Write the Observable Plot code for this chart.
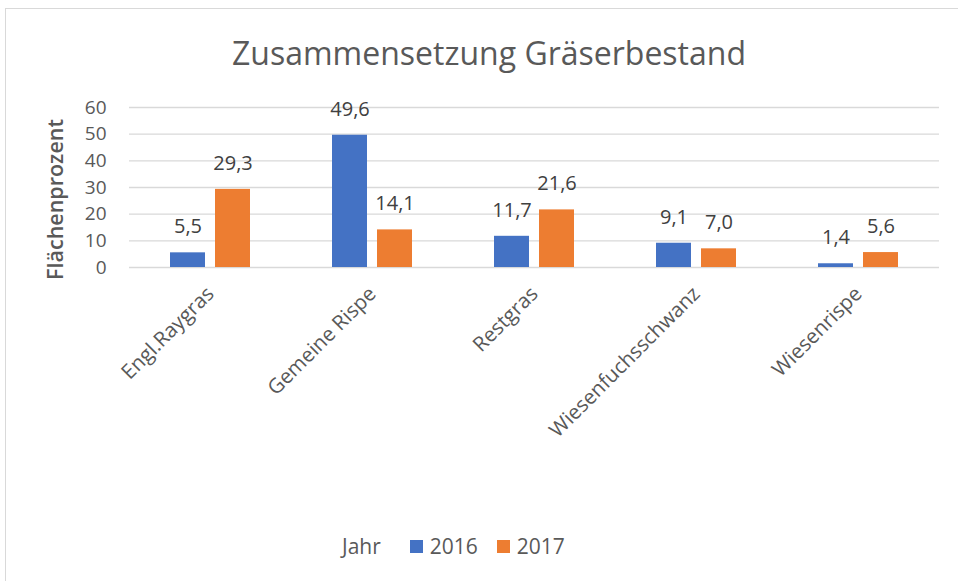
<!DOCTYPE html>
<html>
<head>
<meta charset="utf-8">
<script src="https://cdn.jsdelivr.net/npm/d3@7"></script>
<script src="https://cdn.jsdelivr.net/npm/@observablehq/plot@0.6"></script>
<style>
  html, body { margin: 0; padding: 0; background: #fff; }
  #page { position: relative; width: 958px; height: 581px; overflow: hidden; font-family: "Open Sans", sans-serif; color: #595959; }
  #frame { position: absolute; left: 5px; top: 8px; width: 1000px; height: 600px; border-left: 1px solid #d9d9d9; border-top: 1px solid #d9d9d9; }
  #title { position: absolute; left: 0; top: 33px; width: 978px; text-align: center; font-size: 32px; line-height: 40px; color: #595959; }
  #chart { position: absolute; left: 0; top: 95px; }
  #legend { position: absolute; left: 342px; top: 533px; display: flex; align-items: center; font-size: 21px; line-height: 26px; color: #595959; }
  .sw { display: inline-block; width: 13px; height: 13px; margin-right: 7px; }
</style>
</head>
<body>
<div id="page">
  <div id="frame"></div>
  <div id="title"></div>
  <div id="chart"></div>
  <div id="legend"></div>
</div>
<script>
const titleText = "Zusammensetzung Gräserbestand";
const yLabel = "Flächenprozent";
const legendTitle = "Jahr";
const categories = ["Engl.Raygras", "Gemeine Rispe", "Restgras", "Wiesenfuchsschwanz", "Wiesenrispe"];
const years = ["2016", "2017"];
const values2016 = [5.5, 49.6, 11.7, 9.1, 1.4];
const values2017 = [29.3, 14.1, 21.6, 7.0, 5.6];
const yTicks = [0, 10, 20, 30, 40, 50, 60];
const colors = ["#4472C4", "#ED7D31"];

const data = categories.flatMap((c, i) => [
  {cat: c, year: years[0], value: values2016[i]},
  {cat: c, year: years[1], value: values2017[i]}
]);
const fmt = v => v.toFixed(1).replace(".", ",");

document.getElementById("title").textContent = titleText;

const chart = Plot.plot({
  width: 958,
  height: 400,
  marginLeft: 128,
  marginRight: 18,
  marginTop: 12,
  marginBottom: 228,
  style: {fontFamily: "Open Sans", fontSize: "19px", color: "#595959", background: "transparent"},
  facet: {data, x: "cat"},
  fx: {domain: categories, padding: 0, label: null, axis: "bottom", tickRotate: -45, tickSize: 0, tickPadding: 23},
  x: {domain: years, axis: null, paddingInner: 0.22, paddingOuter: 0.875},
  y: {domain: [0, 60], ticks: yTicks, tickSize: 0, tickPadding: 23, label: yLabel, labelAnchor: "center", labelOffset: 82, labelArrow: "none"},
  color: {domain: years, range: colors},
  marks: [
    Plot.ruleY(yTicks, {stroke: "#d9d9d9", strokeWidth: 1.3}),
    Plot.barY(data, {x: "year", y: "value", fill: "year"}),
    Plot.text(data, {x: "year", y: "value", text: d => fmt(d.value), dy: -26, fill: "#404040", fontSize: 20})
  ]
});
document.getElementById("chart").appendChild(chart);

const svg = d3.select(chart);
svg.selectAll("text").filter(function() { return this.textContent.includes(yLabel); })
  .text(yLabel)
  .attr("dx", -12)
  .style("font-weight", "600")
  .style("font-size", "21.5px");
svg.selectAll("text").filter(function() { return categories.includes(this.textContent); })
  .style("font-size", "20.5px");

const lg = d3.select("#legend");
lg.append("span").text(legendTitle).style("margin-right", "29px");
years.forEach((y, i) => {
  lg.append("span").attr("class", "sw").style("background", colors[i]);
  lg.append("span").text(y).style("margin-right", i === 0 ? "19px" : "0");
});
</script>
</body>
</html>
